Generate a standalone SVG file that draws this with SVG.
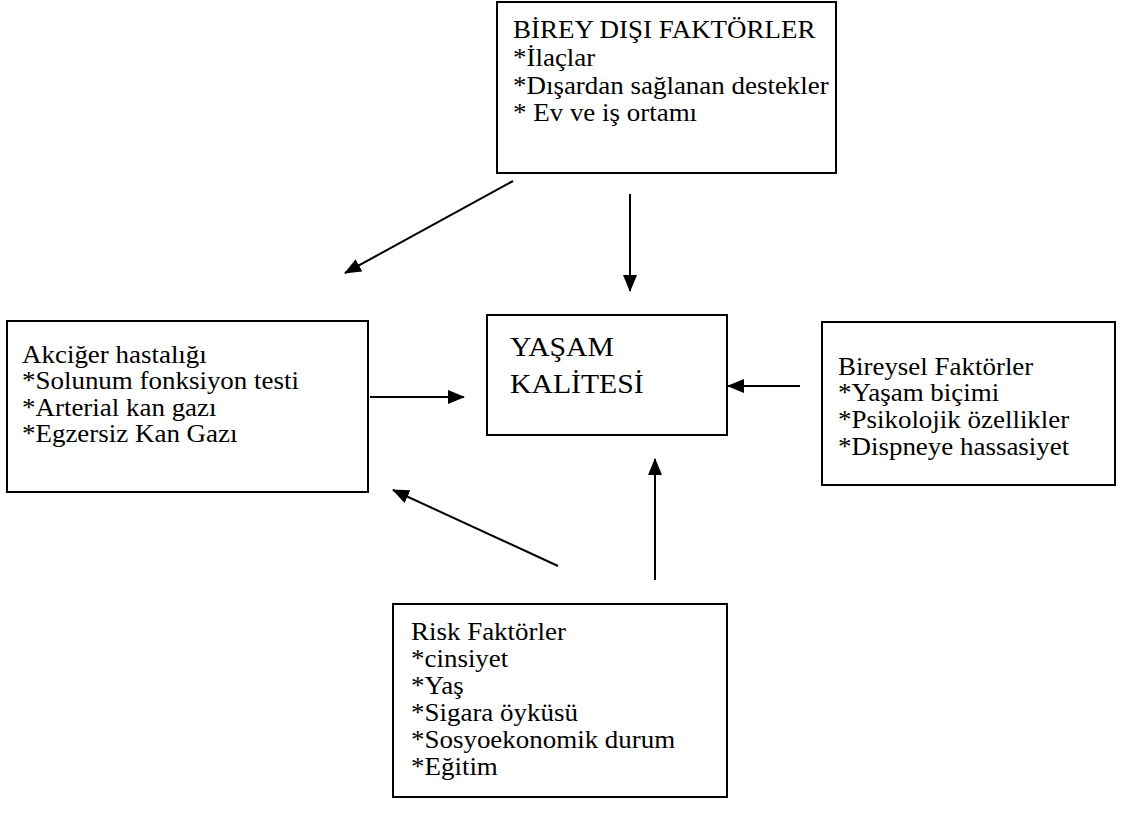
<svg xmlns="http://www.w3.org/2000/svg" width="1134" height="822" viewBox="0 0 1134 822">
<style>
.box{fill:#fff;stroke:#000;stroke-width:2}
.t{font-family:"Liberation Serif","Times New Roman",serif;font-size:24.5px;fill:#000}
.big{font-family:"Liberation Serif","Times New Roman",serif;font-size:27px;fill:#000}
.c{stroke:#000;stroke-width:2;fill:none;marker-end:url(#ah)}
</style>
<defs>
<marker id="ah" markerUnits="userSpaceOnUse" markerWidth="18" markerHeight="16" refX="16" refY="7" orient="auto">
<path d="M0,0 L17,7 L0,14 Z" fill="#000"/>
</marker>
</defs>
<rect width="1134" height="822" fill="#fff"/>
<g id="connectors">
<line class="c" x1="513" y1="181" x2="345" y2="273"/>
<line class="c" x1="630" y1="194" x2="630" y2="291"/>
<line class="c" x1="370" y1="397" x2="464" y2="397"/>
<line class="c" x1="800" y1="386" x2="728" y2="386"/>
<line class="c" x1="558" y1="566" x2="393" y2="490"/>
<line class="c" x1="655" y1="580" x2="655" y2="459"/>
</g>
<g id="dis">
<rect class="box" x="497" y="2" width="339" height="171"/>
<g transform="translate(513,0) scale(1.1,1)">
<text class="t" x="0" y="38">BİREY DIŞI FAKTÖRLER</text>
<text class="t" x="0" y="66">*İlaçlar</text>
<text class="t" x="0" y="94">*Dışardan sağlanan destekler</text>
<text class="t" x="0" y="121">* Ev ve iş ortamı</text>
</g>
</g>
<g id="akciger">
<rect class="box" x="7" y="321" width="361" height="171"/>
<g transform="translate(22,0) scale(1.1,1)">
<text class="t" x="0" y="363">Akciğer hastalığı</text>
<text class="t" x="0" y="389">*Solunum fonksiyon testi</text>
<text class="t" x="0" y="416">*Arterial kan gazı</text>
<text class="t" x="0" y="442">*Egzersiz Kan Gazı</text>
</g>
</g>
<g id="yasam">
<rect class="box" x="487" y="315" width="240" height="120"/>
<g transform="translate(510,0) scale(1.1,1)">
<text class="big" x="0" y="356">YAŞAM</text>
<text class="big" x="0" y="393">KALİTESİ</text>
</g>
</g>
<g id="bireysel">
<rect class="box" x="822" y="322" width="293" height="163"/>
<g transform="translate(838,0) scale(1.1,1)">
<text class="t" x="0" y="375">Bireysel Faktörler</text>
<text class="t" x="0" y="401">*Yaşam biçimi</text>
<text class="t" x="0" y="428">*Psikolojik özellikler</text>
<text class="t" x="0" y="455">*Dispneye hassasiyet</text>
</g>
</g>
<g id="risk">
<rect class="box" x="393" y="604" width="334" height="193"/>
<g transform="translate(411,0) scale(1.1,1)">
<text class="t" x="0" y="640">Risk Faktörler</text>
<text class="t" x="0" y="667">*cinsiyet</text>
<text class="t" x="0" y="694">*Yaş</text>
<text class="t" x="0" y="721">*Sigara öyküsü</text>
<text class="t" x="0" y="748">*Sosyoekonomik durum</text>
<text class="t" x="0" y="775">*Eğitim</text>
</g>
</g>
</svg>
